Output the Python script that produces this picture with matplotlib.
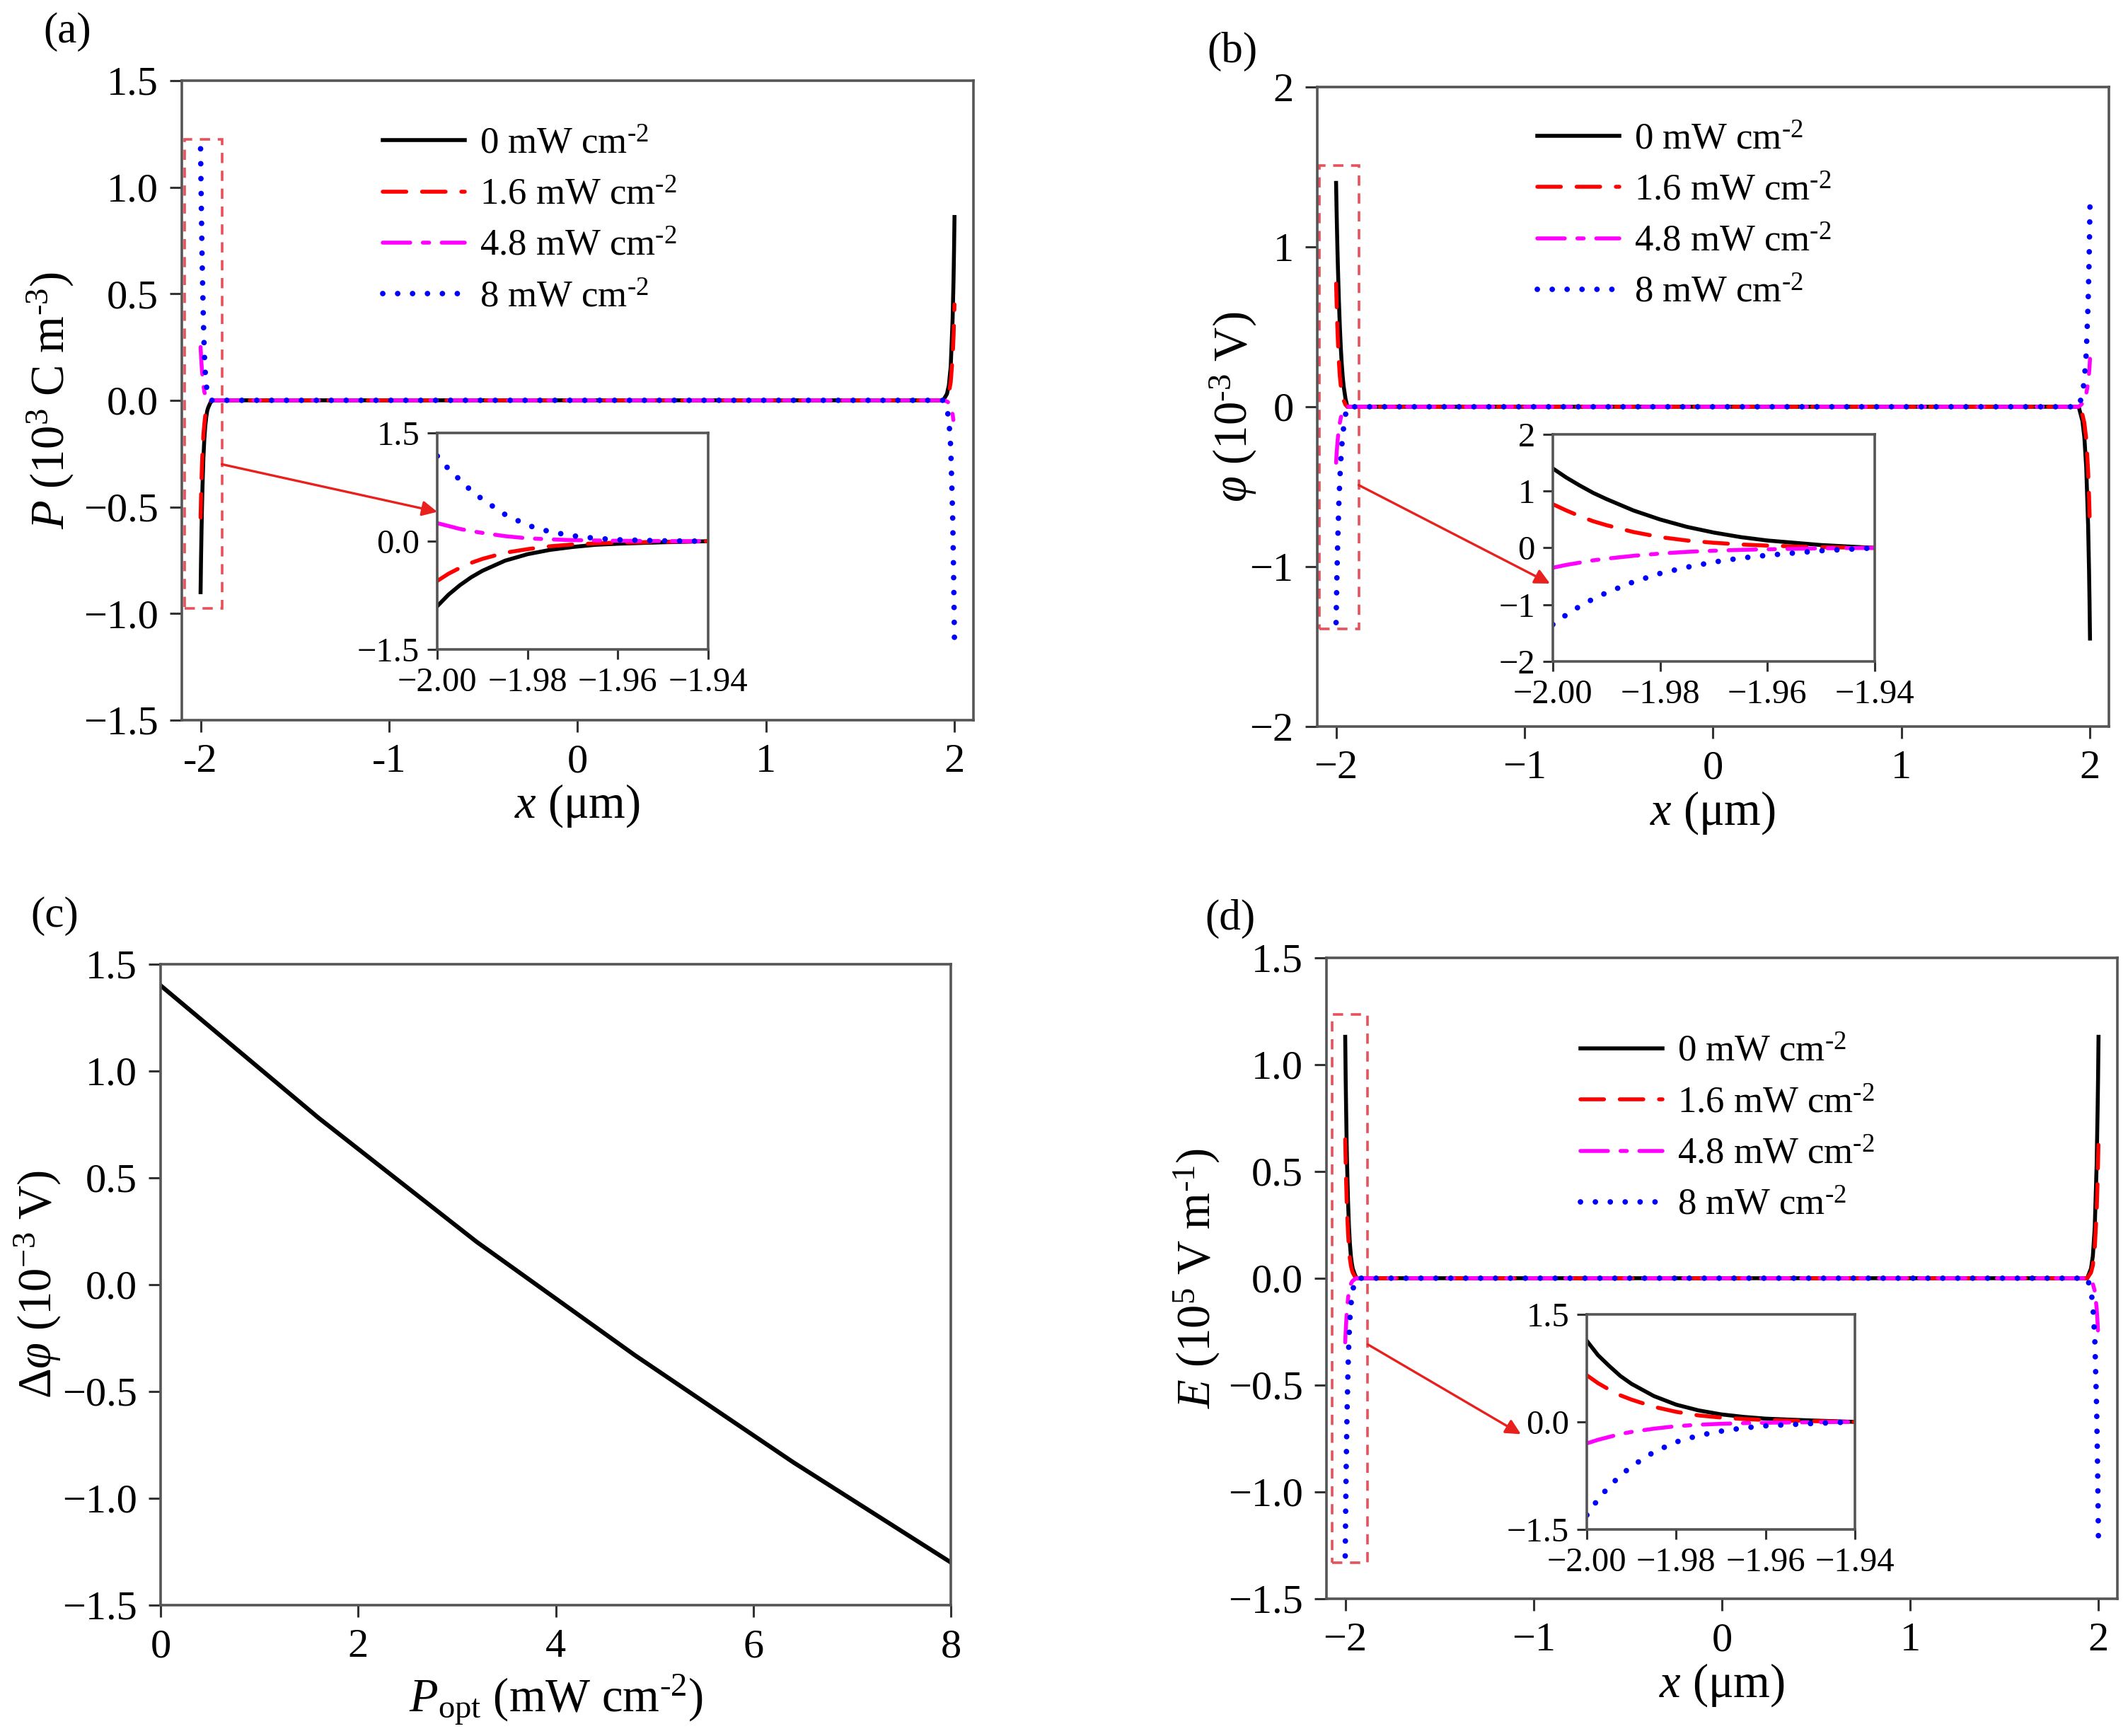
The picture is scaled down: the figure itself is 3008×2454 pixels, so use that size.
import numpy as np
import matplotlib
matplotlib.use('Agg')
import matplotlib.pyplot as plt
from matplotlib.patches import Rectangle

plt.rcParams['font.family'] = ['Liberation Serif', 'DejaVu Serif']
plt.rcParams['mathtext.fontset'] = 'custom'
plt.rcParams['mathtext.rm'] = 'Liberation Serif'
plt.rcParams['mathtext.it'] = 'Liberation Serif:italic'
plt.rcParams['mathtext.bf'] = 'Liberation Serif:bold'

### data

# light intensities (legend)
intensity_labels = [r'0 mW cm$^{\text{-2}}$', r'1.6 mW cm$^{\text{-2}}$',
                    r'4.8 mW cm$^{\text{-2}}$', r'8 mW cm$^{\text{-2}}$']

# sample points near the left surface (um) and distance from the right surface (um)
x_left = [-2.000, -1.9975, -1.995, -1.9925, -1.990, -1.985, -1.980,
          -1.975, -1.970, -1.965, -1.960, -1.950, -1.940]
d_right = [0.0, 0.0025, 0.005, 0.01, 0.02, 0.03, 0.04, 0.06]

# (a) polarization charge P (10^3 C m^-3)
P_left = [
    [-0.90, -0.74, -0.61, -0.50, -0.41, -0.27, -0.18, -0.12, -0.08, -0.05, -0.035, -0.015, 0.0],
    [-0.55, -0.45, -0.37, -0.30, -0.245, -0.16, -0.11, -0.07, -0.045, -0.03, -0.02, -0.008, 0.0],
    [0.25, 0.21, 0.17, 0.14, 0.115, 0.07, 0.04, 0.025, 0.015, 0.01, 0.006, 0.002, 0.0],
    [1.18, 1.00, 0.85, 0.70, 0.58, 0.37, 0.22, 0.13, 0.075, 0.04, 0.02, 0.005, 0.0],
]
P_right = [
    [0.86, 0.70, 0.57, 0.38, 0.16, 0.07, 0.03, 0.0],
    [0.45, 0.37, 0.30, 0.20, 0.085, 0.035, 0.015, 0.0],
    [-0.15, -0.12, -0.10, -0.065, -0.03, -0.012, -0.005, 0.0],
    [-1.15, -0.95, -0.80, -0.53, -0.22, -0.09, -0.04, 0.0],
]

# (b) potential phi (10^-3 V)
phi_left = [
    [1.40, 1.24, 1.10, 0.97, 0.86, 0.66, 0.50, 0.37, 0.27, 0.19, 0.13, 0.05, 0.0],
    [0.77, 0.66, 0.56, 0.47, 0.40, 0.28, 0.19, 0.13, 0.09, 0.06, 0.04, 0.012, 0.0],
    [-0.35, -0.30, -0.26, -0.22, -0.19, -0.14, -0.10, -0.07, -0.05, -0.035, -0.025, -0.008, 0.0],
    [-1.35, -1.18, -1.03, -0.90, -0.79, -0.60, -0.45, -0.34, -0.25, -0.18, -0.13, -0.05, 0.0],
]
phi_right = [
    [-1.45, -1.22, -1.03, -0.74, -0.38, -0.19, -0.09, 0.0],
    [-0.78, -0.66, -0.56, -0.40, -0.20, -0.10, -0.05, 0.0],
    [0.30, 0.25, 0.21, 0.15, 0.08, 0.04, 0.02, 0.0],
    [1.27, 1.07, 0.90, 0.65, 0.33, 0.17, 0.08, 0.0],
]

# (c) potential difference vs light intensity
P_opt = [0.0, 1.6, 3.2, 4.8, 6.4, 8.0]
dphi = [1.40, 0.78, 0.20, -0.33, -0.83, -1.30]

# (d) electric field E (10^5 V m^-1)
E_left = [
    [1.13, 0.93, 0.78, 0.64, 0.53, 0.36, 0.24, 0.16, 0.105, 0.07, 0.045, 0.02, 0.0],
    [0.65, 0.54, 0.45, 0.37, 0.31, 0.21, 0.14, 0.09, 0.06, 0.04, 0.026, 0.01, 0.0],
    [-0.30, -0.25, -0.21, -0.17, -0.14, -0.095, -0.06, -0.04, -0.027, -0.018, -0.012, -0.005, 0.0],
    [-1.30, -1.08, -0.90, -0.75, -0.62, -0.42, -0.28, -0.19, -0.13, -0.085, -0.055, -0.024, 0.0],
]
E_right = [
    [1.13, 0.93, 0.78, 0.53, 0.24, 0.105, 0.045, 0.0],
    [0.65, 0.54, 0.45, 0.31, 0.14, 0.06, 0.026, 0.0],
    [-0.30, -0.25, -0.21, -0.14, -0.06, -0.027, -0.012, 0.0],
    [-1.27, -1.06, -0.88, -0.61, -0.28, -0.13, -0.055, 0.0],
]

# tick labels
x_ticks = [-2, -1, 0, 1, 2]
x_labels_hyphen = ['-2', '-1', '0', '1', '2']
x_labels_minus = ['\u22122', '\u22121', '0', '1', '2']
inset_xticks = [-2.00, -1.98, -1.96, -1.94]
inset_xlabels = ['\u22122.00', '\u22121.98', '\u22121.96', '\u22121.94']

### styles
colors = ['black', '#ff0000', '#ff00ff', '#0000ff']
styles = ['-', (0, (6, 4)), (0, (7, 3.2, 1.6, 3.2)), (0, (0.01, 2.7))]
widths = [2.0, 2.0, 2.0, 2.8]
frame_col = '#555555'
box_col = '#e8505b'


def style_axes(ax, tick_size=21, length=6.0, pad=6):
    for s in ax.spines.values():
        s.set_color(frame_col)
        s.set_linewidth(1.3)
    ax.tick_params(direction='out', length=length, width=1.1, color='#333333',
                   labelsize=tick_size, pad=pad, top=False, right=False)


def field_panel(ax, axin, left, right, ylim, yticks, xlabels, box, arrow,
                ylabel, ylab_x, inset_yticks, legend_xy):
    x_full = list(x_left) + [2.0 - d for d in d_right[::-1]]
    for i in range(4):
        y_full = list(left[i]) + list(right[i][::-1])
        kw = dict(color=colors[i], ls=styles[i], lw=widths[i], dash_capstyle='round')
        ax.plot(x_full, y_full, label=intensity_labels[i], **kw)
        axin.plot(x_left, left[i], **kw)

    ax.set_xlim(-2.1, 2.1)
    ax.set_ylim(*ylim)
    ax.set_xticks(x_ticks)
    ax.set_xticklabels(xlabels)
    ax.set_yticks(yticks)
    style_axes(ax)
    ax.set_xlabel('$x$ (\u03bcm)', fontsize=24)
    ax.xaxis.set_label_coords(0.5, -0.098)
    ax.set_ylabel(ylabel, fontsize=24)
    ax.yaxis.set_label_coords(ylab_x, 0.5)

    # zoom box and arrow
    ax.add_patch(Rectangle((box[0], box[1]), box[2] - box[0], box[3] - box[1],
                           fill=False, ec=box_col, lw=1.3, ls=(0, (4, 3))))
    ax.annotate('', xy=arrow[1], xytext=arrow[0], xycoords='data',
                arrowprops=dict(arrowstyle='-|>', color='#e8201e', lw=1.2,
                                mutation_scale=16, shrinkA=0, shrinkB=0))

    # inset
    axin.set_xlim(-2.0, -1.94)
    axin.set_ylim(inset_yticks[0], inset_yticks[-1])
    axin.set_xticks(inset_xticks)
    axin.set_xticklabels(inset_xlabels)
    axin.set_yticks(inset_yticks)
    style_axes(axin, tick_size=17.5, length=5.0, pad=4)

    # add legend
    ax.legend(loc='upper left', bbox_to_anchor=legend_xy, frameon=False, fontsize=19,
              handlelength=2.2, handletextpad=0.4, labelspacing=0.46,
              borderpad=0, borderaxespad=0)


fig = plt.figure(figsize=(15.04, 12.27), dpi=200)

ax_a = fig.add_axes([0.0854, 0.5852, 0.372, 0.3684])
ax_b = fig.add_axes([0.619, 0.5815, 0.372, 0.3684])
ax_c = fig.add_axes([0.0755, 0.0754, 0.3713, 0.3692])
ax_d = fig.add_axes([0.6233, 0.0791, 0.3717, 0.3692])
in_a = fig.add_axes([0.2055, 0.6259, 0.1273, 0.1247])
in_b = fig.add_axes([0.7297, 0.619, 0.1513, 0.1308])
in_d = fig.add_axes([0.7457, 0.119, 0.126, 0.1239])

# (a)
field_panel(ax_a, in_a, P_left, P_right, (-1.5, 1.5), [-1.5, -1.0, -0.5, 0.0, 0.5, 1.0, 1.5],
            x_labels_hyphen, (-2.083, -0.975, -1.887, 1.225),
            ((-1.887, -0.30), (-0.744, -0.523)),
            r'$P$ (10$^{3}$ C m$^{\text{-3}}$)', -0.134, [-1.5, 0.0, 1.5], (0.254, 0.927))

# (b)
field_panel(ax_b, in_b, phi_left, phi_right, (-2, 2), [-2, -1, 0, 1, 2],
            x_labels_minus, (-2.09, -1.39, -1.88, 1.51),
            ((-1.88, -0.49), (-0.865, -1.106)),
            r'$\varphi$ (10$^{\text{-3}}$ V)', -0.074, [-2, -1, 0, 1, 2], (0.278, 0.944))

# (d)
field_panel(ax_d, in_d, E_left, E_right, (-1.5, 1.5), [-1.5, -1.0, -0.5, 0.0, 0.5, 1.0, 1.5],
            x_labels_minus, (-2.07, -1.33, -1.88, 1.235),
            ((-1.88, -0.31), (-1.067, -0.73)),
            r'$E$ (10$^{5}$ V m$^{\text{-1}}$)', -0.132, [-1.5, 0.0, 1.5], (0.321, 0.879))

# (c)
ax_c.plot(P_opt, dphi, color='black', lw=2.2)
ax_c.set_xlim(0, 8)
ax_c.set_ylim(-1.5, 1.5)
ax_c.set_xticks([0, 2, 4, 6, 8])
ax_c.set_yticks([-1.5, -1.0, -0.5, 0.0, 0.5, 1.0, 1.5])
style_axes(ax_c)
ax_c.set_xlabel(r'$P_{\mathrm{opt}}$ (mW cm$^{\text{-2}}$)', fontsize=24)
ax_c.xaxis.set_label_coords(0.5, -0.105)
ax_c.set_ylabel('$\\mathit{\u0394\u03c6}$ (10$^{-3}$ V)', fontsize=24)
ax_c.yaxis.set_label_coords(-0.124, 0.5)

# panel labels
for lab, px, py in [('(a)', 95, 45), ('(b)', 1742, 73), ('(c)', 77, 1295), ('(d)', 1739, 1299)]:
    fig.text(px / 3008, 1 - py / 2454, lab, fontsize=22, ha='center', va='center')

plt.savefig('out.png', dpi=200)
plt.close()
